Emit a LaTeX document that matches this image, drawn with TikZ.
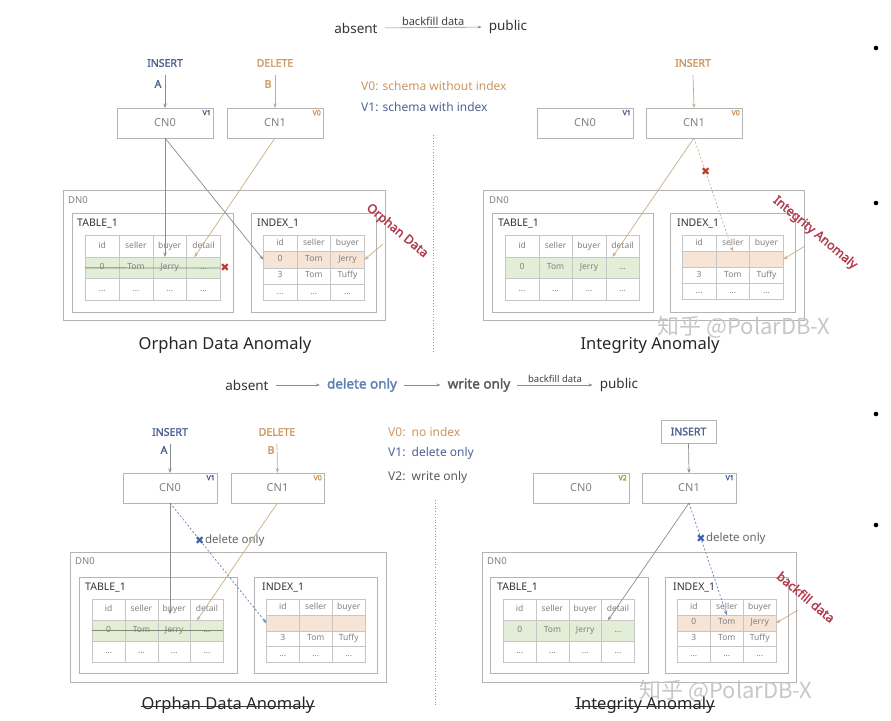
\documentclass[tikz,border=0pt]{standalone}
\usepackage{fontspec}
\setmainfont{Noto Sans}[AutoFakeBold=2]
\newfontfamily\cjkfont{Noto Sans CJK SC}
\newfontfamily\symfont{DejaVu Sans}
\usetikzlibrary{arrows.meta,calc,matrix}
\definecolor{boxc}{HTML}{B4B4B4}
\definecolor{gridc}{HTML}{C6C6C6}
\definecolor{cellt}{HTML}{808080}
\definecolor{greenf}{HTML}{E2EED8}
\definecolor{peachf}{HTML}{F6E4D6}
\definecolor{bluec}{HTML}{4E6290}
\definecolor{lblue}{HTML}{5F7FB5}
\definecolor{orangec}{HTML}{C9975E}
\definecolor{redc}{HTML}{B23B4E}
\definecolor{tanc}{HTML}{C8AC88}
\definecolor{linec}{HTML}{8C8C8C}
\definecolor{olivec}{HTML}{9A9A3A}
\definecolor{xred}{HTML}{C0392B}
\definecolor{xblue}{HTML}{3F5FA8}
\definecolor{strkc}{HTML}{7D8A70}
\newcommand{\fsz}[1]{\fontsize{#1}{#1}\selectfont}
\begin{document}
\begin{tikzpicture}[x=1pt,y=-1pt,
  box/.style={draw=boxc, line width=0.8pt},
  cnbox/.style={box, minimum width=#1, minimum height=30pt, inner sep=0pt, outer sep=0pt, text=cellt, font=\fsz{11}},
  cnbox/.default=96pt,
  ver/.style={font=\bfseries\fsz{7}, anchor=north east, inner sep=2pt},
  oplbl/.style={font=\bfseries\fsz{10.5}, inner sep=1pt},
  lbl/.style={anchor=west, inner sep=0pt, font=\fsz{10.5}, text=black!80},
  dnlbl/.style={anchor=west, inner sep=0pt, font=\fsz{9.5}, text=cellt},
  legend/.style={anchor=west, inner sep=0pt, font=\fsz{12}},
  title/.style={font=\fsz{16.5}, text=black!85, inner sep=0pt},
  hdr/.style={font=\fsz{13.5}, text=black!80, inner sep=1pt},
  redlbl/.style={font=\bfseries\fsz{12.5}, text=redc, inner sep=0pt, rotate=-40},
  conn/.style={line width=0.7pt, -{Stealth[length=4.5pt,width=3.5pt]}},
  harrow/.style={draw=black!45, line width=0.6pt, -{Stealth[length=4pt,width=3pt]}, shorten <=6pt, shorten >=6pt},
  xmk/.style={font=\symfont\fsz{11}, inner sep=0pt},
  strk/.style={draw=strkc, line width=0.8pt},
  wm/.style={font=\cjkfont\fsz{22}, text=black!22, inner sep=0pt},
  tblm/.style n args={2}{matrix of nodes, nodes in empty cells, anchor=north west,
    inner sep=0pt, outer sep=0pt, column sep=-0.6pt, row sep=-0.6pt,
    nodes={draw=gridc, line width=0.6pt, minimum width=#1, minimum height=#2,
      inner sep=0pt, outer sep=0pt, anchor=center, text height=6pt, text depth=2pt,
      text=cellt, font=\fsz{8.5}}},
]
\useasboundingbox (0,0) rectangle (891,720);

% ---------------- headers ----------------
\node[hdr] (ab1) at (356,28) {absent};
\node[hdr] (pb1) at (508,27) {public};
\draw[harrow] (ab1.east) -- (pb1.west) node[midway, above=2pt, font=\fsz{11}, text=black!75, inner sep=0pt] (bf1) {backfill data};

\node[hdr] (ab2) at (247,385) {absent};
\node[hdr, font=\bfseries\fsz{13.5}, text=lblue] (do2) at (362,385) {delete only};
\node[hdr, font=\bfseries\fsz{13.5}, text=black!65] (wo2) at (479,385) {write only};
\node[hdr] (pb2) at (619,385) {public};
\draw[harrow] (ab2.east) -- (do2.west);
\draw[harrow] (do2.east) -- (wo2.west);
\draw[harrow] (wo2.east) -- (pb2.west) node[midway, above=2pt, font=\fsz{9.5}, text=black!75, inner sep=0pt] (bf2) {backfill data};

% dividers
\draw[dotted, draw=black!40, line width=0.8pt] (433,135) -- (433,352);
\draw[dotted, draw=black!40, line width=0.8pt] (435,500) -- (435,705);

% bullets on the right edge
\fill (876,48) circle (2.3);
\fill (876,203) circle (2.3);
\fill (876,414) circle (2.3);
\fill (876,525) circle (2.3);

% ================= TOP LEFT =================
\node[oplbl, text=bluec] (tlins) at (165,63) {INSERT};
\node[oplbl, text=bluec] (tlA) at (158,84) {A};
\node[oplbl, text=orangec] (tldel) at (275,63) {DELETE};
\node[oplbl, text=orangec] (tlB) at (268,84) {B};
\node[cnbox] (tlc0) at (165,123) {CN0};
\node[ver, text=bluec] (tlv0) at (tlc0.north east) {V1};
\node[cnbox] (tlc1) at (275,123) {CN1};
\node[ver, text=orangec] (tlv1) at (tlc1.north east) {V0};
\draw[conn, draw=linec] ([yshift=-7pt]tlins.south) -- (tlc0.north);
\draw[conn, draw=tanc] ([yshift=-7pt]tldel.south) -- (tlc1.north);
\node[legend, text=orangec] (tlg0) at (361,86) {V0: schema without index};
\node[legend, text=bluec] (tlg1) at (361,107) {V1: schema with index};

\draw[box] (63,190) rectangle (385,320);
\node[dnlbl] (tldn) at (68,200) {DN0};
\draw[box] (72,213) rectangle (233,312);
\node[lbl] (tltl) at (77,224) {TABLE\_1};
\draw[box] (251,213) rectangle (376,312);
\node[lbl] (tlil) at (257,224) {INDEX\_1};

\matrix (tlT) [tblm={33.75pt}{21.7pt}, row 2/.style={nodes={fill=greenf}}] at (85,235) {
  id & seller & buyer & detail \\
  0 & Tom & Jerry & ... \\
  ... & ... & ... & ... \\
};
\matrix (tlI) [tblm={33.7pt}{16.25pt}, row 2/.style={nodes={fill=peachf}}] at (263,235) {
  id & seller & buyer \\
  0 & Tom & Jerry \\
  3 & Tom & Tuffy \\
  ... & ... & ... \\
};
\node[xmk, text=xred] (tlx) at (225,268) {✖};
\draw[strk] (tlT-2-1.west) -- (tlx.west);
\draw[conn, draw=linec] (tlc0.south) -- (tlc0.south |- tlT-1-3.south);
\draw[conn, draw=linec] (tlc0.south) -- (tlI-2-1.west);
\draw[conn, draw=tanc] (tlc1.south) -- ([xshift=-9pt]tlT-1-4.south);
\node[redlbl] (tlod) at (397,231) {Orphan Data};
\coordinate (tlodp) at (383,244);
\draw[conn, draw=tanc] (tlodp) -- (tlI-2-3.east);
\node[title] (tlt) at (225,345) {Orphan Data Anomaly};

% ================= TOP RIGHT =================
\node[oplbl, text=orangec] (trins) at (693,63) {INSERT};
\node[cnbox] (trc0) at (585,123) {CN0};
\node[ver, text=bluec] (trv0) at (trc0.north east) {V1};
\node[cnbox] (trc1) at (694,123) {CN1};
\node[ver, text=orangec] (trv1) at (trc1.north east) {V0};
\draw[conn, draw=tanc] ([yshift=-7pt]trins.south) -- (trc1.north);

\draw[box] (483,190) rectangle (804,320);
\node[dnlbl] (trdn) at (489,200) {DN0};
\draw[box] (492,213) rectangle (653,312);
\node[lbl] (trtl) at (498,224) {TABLE\_1};
\draw[box] (670,213) rectangle (795,312);
\node[lbl] (tril) at (677,224) {INDEX\_1};

\matrix (trT) [tblm={33.5pt}{21.5pt}, row 2/.style={nodes={fill=greenf}}] at (505,235) {
  id & seller & buyer & detail \\
  0 & Tom & Jerry & ... \\
  ... & ... & ... & ... \\
};
\matrix (trI) [tblm={33.7pt}{16pt}, row 2/.style={nodes={fill=peachf}}] at (682,235) {
  id & seller & buyer \\
   & & \\
  3 & Tom & Tuffy \\
  ... & ... & ... \\
};
\draw[conn, draw=tanc] (trc1.south) -- ([xshift=-10pt]trT-1-4.south);
\draw[conn, draw=tanc, dashed, dash pattern=on 2pt off 2pt] (trc1.south) -- (trI-1-2.south)
  node[pos=0.3, xmk, text=xred] (trx) {✖};
\node[redlbl] (tria) at (815,233) {Integrity Anomaly};
\coordinate (triap) at (805,246);
\draw[conn, draw=tanc] (triap) -- (trI-2-3.east);
\node[wm] (trwm) at (744,327) {知乎 @PolarDB-X};
\node[title] (trt) at (650,345) {Integrity Anomaly};

% ================= BOTTOM LEFT =================
\node[oplbl, text=bluec] (blins) at (170,432) {INSERT};
\node[oplbl, text=bluec] (blA) at (164,450) {A};
\node[oplbl, text=orangec] (bldel) at (277,432) {DELETE};
\node[oplbl, text=orangec] (blB) at (271,450) {B};
\node[cnbox=94pt] (blc0) at (170,488) {CN0};
\node[ver, text=bluec] (blv0) at (blc0.north east) {V1};
\node[cnbox=93pt] (blc1) at (277.5,488) {CN1};
\node[ver, text=orangec] (blv1) at (blc1.north east) {V0};
\draw[conn, draw=linec] ([yshift=-7pt]blins.south) -- (blc0.north);
\draw[conn, draw=tanc] ([yshift=-7pt]bldel.south) -- (blc1.north);
\node[legend, text=orangec] (blg0) at (388,432) {V0:\ \ no index};
\node[legend, text=bluec] (blg1) at (388,453) {V1:\ \ delete only};
\node[legend, text=black!65] (blg2) at (388,477) {V2:\ \ write only};

\draw[box] (70,552) rectangle (386,682);
\node[dnlbl] (bldn) at (75,561) {DN0};
\draw[box] (79,577) rectangle (237,673);
\node[lbl] (bltl) at (85,588) {TABLE\_1};
\draw[box] (254,577) rectangle (377,673);
\node[lbl] (blil) at (262,588) {INDEX\_1};

\matrix (blT) [tblm={32.75pt}{21pt}, row 2/.style={nodes={fill=greenf}}] at (92,599) {
  id & seller & buyer & detail \\
  0 & Tom & Jerry & ... \\
  ... & ... & ... & ... \\
};
\matrix (blI) [tblm={33pt}{15.75pt}, row 2/.style={nodes={fill=peachf}}] at (266,599) {
  id & seller & buyer \\
   & & \\
  3 & Tom & Tuffy \\
  ... & ... & ... \\
};
\draw[strk] (blT-2-1.west) -- (blT-2-4.east);
\draw[conn, draw=linec] (blc0.south) -- ($(blc0.south |- blT-1-3.south)+(0,-6)$);
\draw[conn, draw=lblue, dashed, dash pattern=on 2pt off 2pt] (blc0.south) -- (blI-2-1.west)
  node[pos=0.31, xmk, text=xblue] (blx) {✖};
\node[anchor=west, inner sep=0pt, font=\fsz{11.5}, text=black!60] (bldo) at (blx.east) {delete only};
\draw[conn, draw=tanc] (blc1.south) -- ([xshift=-10pt]blT-1-4.south);
\node[title] (blt) at (228,705) {Orphan Data Anomaly};
\draw[line width=0.8pt, draw=black!80] (blt.mid west) -- (blt.mid east);

% ================= BOTTOM RIGHT =================
\node[draw=boxc, line width=0.8pt, minimum width=55pt, minimum height=23pt, inner sep=0pt,
  font=\bfseries\fsz{10.5}, text=bluec] (brins) at (688.5,431.5) {INSERT};
\node[cnbox] (brc0) at (581,488) {CN0};
\node[ver, text=olivec] (brv0) at (brc0.north east) {V2};
\node[cnbox=94pt] (brc1) at (689,488) {CN1};
\node[ver, text=bluec] (brv1) at (brc1.north east) {V1};
\draw[conn, draw=linec] (brins.south) -- (brc1.north);

\draw[box] (482,552) rectangle (796,682);
\node[dnlbl] (brdn) at (487,561) {DN0};
\draw[box] (490,577) rectangle (648,673);
\node[lbl] (brtl) at (497,588) {TABLE\_1};
\draw[box] (665,577) rectangle (788,673);
\node[lbl] (bril) at (673,588) {INDEX\_1};

\matrix (brT) [tblm={32.75pt}{21pt}, row 2/.style={nodes={fill=greenf}}] at (503,599) {
  id & seller & buyer & detail \\
  0 & Tom & Jerry & ... \\
  ... & ... & ... & ... \\
};
\matrix (brI) [tblm={33pt}{15.75pt}, row 2/.style={nodes={fill=peachf}}] at (677,599) {
  id & seller & buyer \\
  0 & Tom & Jerry \\
  3 & Tom & Tuffy \\
  ... & ... & ... \\
};
\draw[conn, draw=linec] (brc1.south) -- ([xshift=-10pt]brT-1-4.south);
\draw[conn, draw=lblue, dashed, dash pattern=on 2pt off 2pt] (brc1.south) -- (brI-1-2.south)
  node[pos=0.315, xmk, text=xblue] (brx) {✖};
\node[anchor=west, inner sep=0pt, font=\fsz{11.5}, text=black!60] (brdo) at (brx.east) {delete only};
\node[redlbl] (brbf) at (806,597) {backfill data};
\coordinate (brbfp) at (798,610);
\draw[conn, draw=tanc] (brbfp) -- (brI-2-3.east);
\node[wm] (brwm) at (726,691) {知乎 @PolarDB-X};
\node[title] (brt) at (645,705) {Integrity Anomaly};
\draw[line width=0.8pt, draw=black!80] (brt.mid west) -- (brt.mid east);
\end{tikzpicture}
\end{document}
